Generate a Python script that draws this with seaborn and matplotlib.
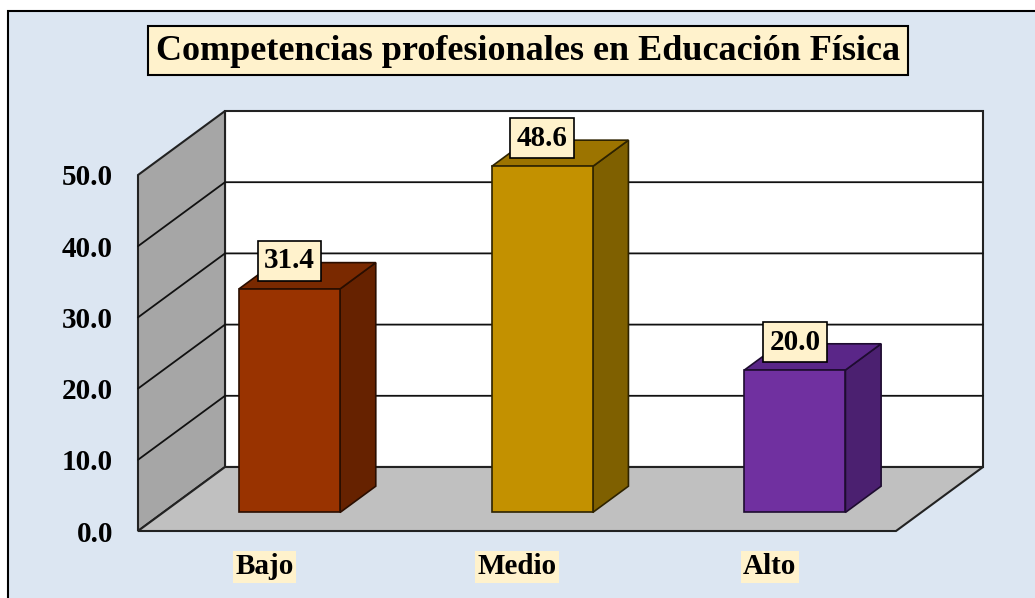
import numpy as np
import matplotlib
matplotlib.use("Agg")
import matplotlib.pyplot as plt
import seaborn as sns
from matplotlib.patches import Polygon, Rectangle
from matplotlib.transforms import ScaledTranslation, IdentityTransform

# datos
categorias = ["Bajo", "Medio", "Alto"]
valores = [31.4, 48.6, 20.0]
ticks_y = [0, 10, 20, 30, 40, 50]
titulo = "Competencias profesionales en Educación Física"

col_frente = ["#993300", "#C39100", "#7030A0"]
col_lado = ["#662200", "#7F6000", "#4B2070"]
col_techo = ["#7A2900", "#9C7400", "#5A2688"]
col_borde = ["#2A0E00", "#2E2300", "#1E0C30"]

sns.set_theme(style="white")
plt.rcParams["font.family"] = ["Liberation Serif", "DejaVu Serif"]
plt.rcParams["font.weight"] = "bold"
plt.rcParams["text.color"] = "black"
plt.rcParams["xtick.labelcolor"] = "black"
plt.rcParams["ytick.labelcolor"] = "black"

W, H, DPI = 1035, 598, 100
fig = plt.figure(figsize=(W / DPI, H / DPI), dpi=DPI)
fig.patch.set_facecolor("white")
# fondo azul del area del grafico
fig.add_artist(Rectangle((8 / W, -0.1), 1.2, 1.1 - 11 / H, transform=fig.transFigure,
                         fc="#DCE6F2", ec="black", lw=1.5, zorder=0))

# plano frontal del grafico 3D
ax = fig.add_axes([138 / W, 67 / H, 758 / W, 356 / H])
ax.patch.set_alpha(0)
for s in ax.spines.values():
    s.set_visible(False)

sns.barplot(x=categorias, y=valores, hue=categorias, palette=col_frente, width=0.4,
            saturation=1, legend=False, ax=ax, zorder=3)
ax.set_xlim(-0.5, len(categorias) - 0.5)
ax.set_ylim(0, 50)

prof = np.array([87.0, 64.0])   # profundidad en px
f1, f2 = 0.29, 0.70             # posicion de la barra en profundidad
x0, x1 = ax.get_xlim()
ymax = ax.get_ylim()[1]


def P(x, y, d):
    return ax.transData.transform((x, y)) + d * prof


ident = IdentityTransform()

# paredes y piso
pared_fondo = [P(x0, 0, 1), P(x1, 0, 1), P(x1, ymax, 1), P(x0, ymax, 1)]
pared_izq = [P(x0, 0, 0), P(x0, 0, 1), P(x0, ymax, 1), P(x0, ymax, 0)]
piso = [P(x0, 0, 0), P(x1, 0, 0), P(x1, 0, 1), P(x0, 0, 1)]
for pts, fc in [(pared_fondo, "white"), (pared_izq, "#A6A6A6"), (piso, "#C0C0C0")]:
    ax.add_patch(Polygon(pts, closed=True, fc=fc, ec="#222222", lw=1.5,
                         transform=ident, clip_on=False, zorder=0.5))

# lineas de division
for t in ticks_y[1:-1]:
    pts = np.array([P(x0, t, 0), P(x0, t, 1), P(x1, t, 1)])
    ax.plot(pts[:, 0], pts[:, 1], color="#111111", lw=1.3, transform=ident,
            clip_on=False, zorder=0.6)

# barras: cara frontal desplazada, lado y techo
desp = ScaledTranslation(f1 * prof[0] / DPI, f1 * prof[1] / DPI, fig.dpi_scale_trans)
for i, bar in enumerate(ax.patches[:len(categorias)]):
    bar.set_transform(ax.transData + desp)
    bar.set_clip_on(False)
    bar.set_edgecolor(col_borde[i])
    bar.set_linewidth(1.2)
    xl, w, h = bar.get_x(), bar.get_width(), bar.get_height()
    xr = xl + w
    lado = [P(xr, 0, f1), P(xr, 0, f2), P(xr, h, f2), P(xr, h, f1)]
    techo = [P(xl, h, f1), P(xr, h, f1), P(xr, h, f2), P(xl, h, f2)]
    for pts, fc in [(lado, col_lado[i]), (techo, col_techo[i])]:
        ax.add_patch(Polygon(pts, closed=True, fc=fc, ec=col_borde[i], lw=1.2,
                             transform=ident, clip_on=False, zorder=2.9))

# etiquetas de valor
for i, v in enumerate(valores):
    ax.annotate(f"{v:.1f}", xy=(i, v),
                xytext=(f1 * prof[0] * 0.72, (f1 * prof[1] + 28) * 0.72),
                textcoords="offset points", ha="center", va="center",
                fontsize=21, fontweight="bold", color="black", zorder=10,
                bbox=dict(boxstyle="square,pad=0.22", fc="#FFF2CC", ec="black", lw=1.2))

ax.set_yticks(ticks_y)
ax.set_yticklabels([f"{t:.1f}" for t in ticks_y])
ax.tick_params(axis="y", length=0, pad=18, labelsize=21, labelcolor="black")
ax.tick_params(axis="x", length=0, pad=16, labelsize=21, labelcolor="black")
for lbl in ax.get_xticklabels():
    lbl.set_fontweight("bold")
    lbl.set_bbox(dict(boxstyle="square,pad=0.08", fc="#FFF2CC", ec="none"))
for lbl in ax.get_yticklabels():
    lbl.set_fontweight("bold")
ax.set_xlabel("")
ax.set_ylabel("")

# titulo
fig.add_artist(Rectangle((148 / W, 1 - 75 / H), 760 / W, 49 / H, transform=fig.transFigure,
                         fc="#FFF2CC", ec="black", lw=1.5, zorder=1))
fig.text(528 / W, 1 - 51 / H, titulo, ha="center", va="center", fontsize=26,
         fontweight="bold", color="black", zorder=2)

fig.savefig("out.png", dpi=DPI)
